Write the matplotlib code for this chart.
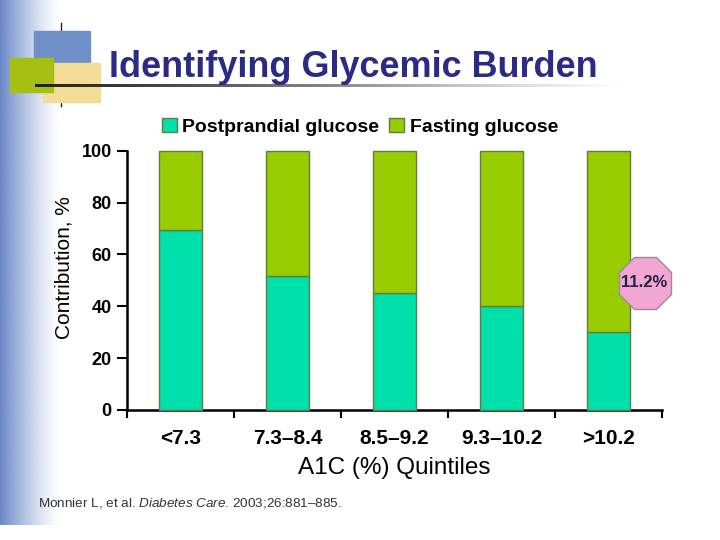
import numpy as np
import matplotlib
matplotlib.use("Agg")
import matplotlib.pyplot as plt
from matplotlib.patches import Rectangle, Patch

# ---------------- data ----------------
categories = ["<7.3", "7.3\u20138.4", "8.5\u20139.2", "9.3\u201310.2", ">10.2"]
postprandial = [69.3, 51.8, 45.0, 40.0, 30.2]
fasting = [30.7, 48.2, 55.0, 60.0, 69.8]
series_names = ["Postprandial glucose", "Fasting glucose"]
yticks = [0, 20, 40, 60, 80, 100]
note_text = "11.2%"
note_y = 49

title = "Identifying Glycemic Burden"
xlabel = "A1C (%) Quintiles"
ylabel = "Contribution, %"

plt.rcParams['font.family'] = ['Liberation Sans', 'DejaVu Sans']
plt.rcParams['mathtext.fontset'] = 'custom'
plt.rcParams['mathtext.it'] = 'Liberation Sans:italic'
plt.rcParams['mathtext.rm'] = 'Liberation Sans'

W, H = 720, 540
fig = plt.figure(figsize=(7.2, 5.4), dpi=100)
fig.patch.set_facecolor("white")

# ---------- decorative background (pixel coordinates) ----------
bg = fig.add_axes([0, 0, 1, 1], zorder=0)
bg.set_xlim(0, W)
bg.set_ylim(H, 0)
bg.axis("off")

# left blue gradient band
n = 200
t = np.linspace(0, 1, n)
a = (1 - t) ** 1.3
c0 = np.array([104, 135, 200]) / 255.0
grad = np.ones((1, n, 4))
grad[0, :, :3] = c0
grad[0, :, 3] = a
bg.imshow(grad, extent=(0, 60, 525, 0), aspect="auto", interpolation="bilinear", zorder=0)

# vertical thin line
bg.plot([61, 61], [23, 106], color="#222222", lw=1.0, zorder=1)
# squares
bg.add_patch(Rectangle((34, 31), 56, 45, color="#6f8fc9", zorder=2))
bg.add_patch(Rectangle((43, 63), 57, 39, color="#f3dc96", zorder=3))
bg.add_patch(Rectangle((10, 58), 43, 34, color="#a5bf15", zorder=4))

# horizontal rule under title with gradient
m = 300
tt = np.linspace(0, 1, m)
rule = np.ones((1, m, 4))
shade = 0.12 + 0.7 * tt
rule[0, :, 0] = shade
rule[0, :, 1] = shade
rule[0, :, 2] = shade
rule[0, :, 3] = np.clip(1.0 - tt ** 3, 0, 1)
bg.imshow(rule, extent=(35, 625, 87.5, 84.5), aspect="auto", interpolation="bilinear", zorder=5)

# title
fig.text(109 / W, 1 - 77 / H, title, fontsize=25.9, fontweight="bold",
         color="#2b2b85", ha="left", va="baseline")

# footer
fig.text(38 / W, 1 - 507 / H,
         r"Monnier L, et al. $\it{Diabetes\ Care}$. 2003;26:881" + "\u2013" + "885.",
         fontsize=9.7, color="#333333", ha="left", va="baseline")

# ---------------- chart ----------------
left, right, bottom, top = 127, 662, 410, 150.7
ax = fig.add_axes([left / W, 1 - bottom / H, (right - left) / W, (bottom - top) / H], zorder=2)
ax.patch.set_alpha(0)

x = np.arange(len(categories))
c_pp = "#00e0aa"
c_fa = "#99cc00"
edge = "#5d7f3a"
bw = 0.41
ax.bar(x, postprandial, width=bw, color=c_pp, edgecolor=edge, linewidth=1.0,
       label=series_names[0], clip_on=False, zorder=3)
ax.bar(x, fasting, width=bw, bottom=postprandial, color=c_fa, edgecolor=edge,
       linewidth=1.0, label=series_names[1], clip_on=False, zorder=3)

ax.set_xlim(-0.5, len(categories) - 0.5)
ax.set_ylim(0, 100)
ax.set_yticks(yticks)
ax.set_yticklabels([str(v) for v in yticks], fontsize=13, fontweight="bold")
ax.set_xticks(x)
ax.set_xticklabels(categories, fontsize=15, fontweight="bold")
ax.tick_params(axis="x", which="major", length=0, pad=14)
ax.set_xticks(np.arange(-0.5, len(categories)), minor=True)
ax.tick_params(axis="x", which="minor", length=6, width=1.5, direction="out")
ax.tick_params(axis="y", length=7, width=1.5, direction="out", pad=4)

for s in ["top", "right"]:
    ax.spines[s].set_visible(False)
for s in ["left", "bottom"]:
    ax.spines[s].set_linewidth(1.8)
    ax.spines[s].set_color("black")

ax.set_xlabel(xlabel, fontsize=17.5, labelpad=6)
ax.set_ylabel(ylabel, fontsize=15)
ax.yaxis.set_label_coords((73 - left) / (right - left), (bottom - 268) / (bottom - top))

# octagon note near last bar
ax.plot([len(categories) - 1 + 0.337], [note_y], marker="8", markersize=40,
        markerfacecolor="#f3a6d2", markeredgecolor="#9a8a9a", markeredgewidth=1.0,
        clip_on=False, zorder=5, linestyle="none")
ax.text(len(categories) - 1 + 0.337, note_y, note_text, fontsize=12, fontweight="bold",
        color="#222244", ha="center", va="center", zorder=6)

# legend
handles = [Patch(facecolor=c_pp, edgecolor=edge), Patch(facecolor=c_fa, edgecolor=edge)]
fig.legend(handles, series_names, loc="center", bbox_to_anchor=(0.5, 1 - 127 / H),
           ncol=2, frameon=False, prop={"weight": "bold", "size": 14},
           handlelength=0.75, handleheight=0.75, handletextpad=0.3, columnspacing=0.5)

fig.savefig("out.png", dpi=100, facecolor="white")
